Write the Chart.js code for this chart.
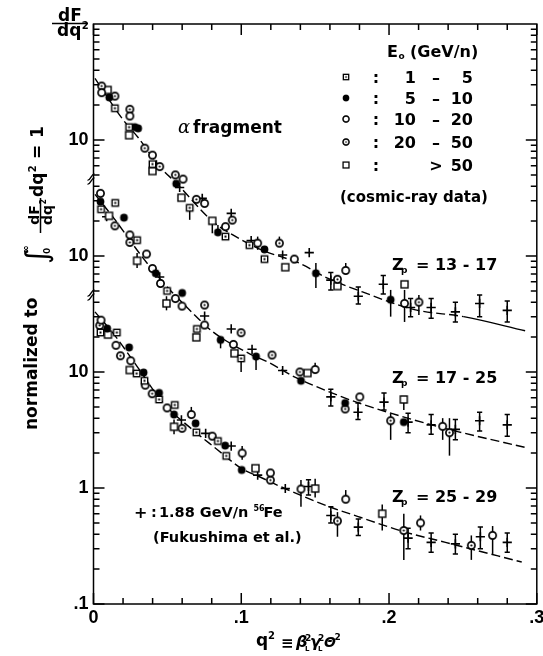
<!DOCTYPE html>
<html>
<head>
<meta charset="utf-8">
<script src="https://cdn.jsdelivr.net/npm/chart.js@4.4.1/dist/chart.umd.min.js"></script>
<style>
  html, body { margin: 0; padding: 0; background: #fff; }
  #box { width: 543px; height: 656px; }
</style>
</head>
<body>
<div id="box"><canvas id="fragChart" width="543" height="656"></canvas></div>
<script>
/* =====================
   DADOS
   [q2, valor] ou [q2, valor, erroBaixo, erroAlto]
   cada painel nas suas proprias unidades
   ===================== */

// Z_p = 13 - 17
const zA_1to5   = [[0.0145,18.8],[0.0241,12.9],[0.0399,6.2],[0.0651,2.6,2.05,2.6],[0.0893,1.47],[0.1055,1.24],[0.1157,0.94]];
const zA_5to10  = [[0.0107,23.3],[0.028,12.9],[0.0302,12.6],[0.056,4.2],[0.0842,1.6,1.6,1.85],[0.1157,1.14],[0.1505,0.71,0.53,0.87],[0.2011,0.42,0.30,0.51]];
const zA_10to20 = [[0.0055,25.6],[0.0246,16.1],[0.0399,7.4],[0.0606,4.6],[0.0752,2.84],[0.0893,1.79],[0.1111,1.29,1.13,1.47],[0.1359,0.94,0.87,1.02],[0.1707,0.75,0.75,0.87],[0.2105,0.39,0.27,0.51]];
const zA_20to50 = [[0.0055,29.2],[0.0145,23.9],[0.0246,18.4],[0.0347,8.5],[0.0448,5.9],[0.0554,5.0],[0.0696,3.08],[0.0939,2.04],[0.1258,1.29,1.29,1.47],[0.1651,0.63],[0.2202,0.40,0.31,0.46]];
const zA_over50 = [[0.0096,27],[0.0241,11],[0.0399,5.4],[0.0595,3.18],[0.0804,2.01,1.57,2.01],[0.1298,0.80],[0.1651,0.55],[0.2105,0.57]];
const zA_fe     = [[0.0426,6.1],[0.0583,3.9],[0.0736,3.14],[0.0932,2.33],[0.1067,1.36],[0.128,1.02],[0.146,1.07],[0.1606,0.62,0.51,0.72],[0.1792,0.45,0.385,0.54],[0.1961,0.57,0.47,0.68],[0.2146,0.36,0.30,0.43],[0.2285,0.36,0.29,0.43],[0.2449,0.33,0.27,0.40],[0.2613,0.39,0.30,0.46],[0.28,0.34,0.27,0.41]];
const zA_fit    = [[0.001,34],[0.0201,14.9],[0.0302,10.5],[0.0448,5.9],[0.0561,4.24],[0.0808,1.98],[0.0943,1.52],[0.1144,1.12],[0.1395,0.865],[0.1588,0.64],[0.182,0.49],[0.2171,0.345],[0.2505,0.30],[0.2921,0.227]];

// Z_p = 17 - 25
const zB_1to5   = [[0.0051,25.3],[0.0147,28.7],[0.0295,13.7],[0.0498,5.0],[0.07,2.35],[0.0999,1.31,1.0,1.31]];
const zB_5to10  = [[0.0047,29.4],[0.0206,21.4],[0.0421,7.1],[0.06,4.8],[0.086,1.89,1.6,1.89],[0.11,1.36,1.04,1.36],[0.1404,0.84],[0.1703,0.54],[0.21,0.37]];
const zB_10to20 = [[0.0047,34.7],[0.0246,15.2],[0.0359,10.4],[0.0399,7.8],[0.0453,5.8],[0.0554,4.3],[0.0599,3.7],[0.0752,2.54],[0.0947,1.73],[0.15,1.05,1.05,1.2],[0.1802,0.61],[0.2363,0.34,0.26,0.40]];
const zB_20to50 = [[0.0145,18.2],[0.0246,13.1],[0.0752,3.78],[0.0999,2.18],[0.1208,1.4],[0.1397,1.0],[0.1703,0.48],[0.2011,0.38,0.26,0.44],[0.2409,0.30,0.19,0.40]];
const zB_over50 = [[0.0105,22.2],[0.0295,9.1,7.9,10.6],[0.0494,3.9,3.4,4.5],[0.0696,1.99],[0.0954,1.45],[0.1448,0.98],[0.21,0.58,0.47,0.58]];
const zB_fe     = [[0.0089,21.8],[0.0448,6.6],[0.0752,3.04],[0.0932,2.35],[0.1073,1.57],[0.128,1.03],[0.1606,0.61,0.51,0.71],[0.179,0.45,0.39,0.54],[0.1966,0.55,0.47,0.66],[0.2129,0.37,0.30,0.44],[0.2285,0.35,0.29,0.43],[0.2449,0.32,0.26,0.39],[0.2613,0.38,0.31,0.45],[0.28,0.35,0.28,0.43]];
const zB_fit    = [[0.001,34],[0.014,21],[0.0325,10],[0.0467,6.0],[0.0662,3.31],[0.0808,2.22],[0.1051,1.45],[0.119,1.2],[0.1359,0.91],[0.1588,0.68],[0.1797,0.54],[0.2156,0.39],[0.2471,0.305],[0.2921,0.224]];

// Z_p = 25 - 29
const zC_1to5   = [[0.0047,21.9],[0.0158,21.9],[0.0292,9.7],[0.0345,8.4],[0.0444,5.8],[0.055,5.2],[0.0696,3.02],[0.0842,2.54],[0.0898,1.89]];
const zC_5to10  = [[0.0093,23.7],[0.0241,16.3],[0.0339,9.9],[0.0444,6.6],[0.0545,4.3],[0.0691,3.61],[0.0891,2.32],[0.1003,1.43]];
const zC_10to20 = [[0.0051,28],[0.0152,17],[0.0252,12.5],[0.035,7.7],[0.0498,4.9],[0.0662,4.3,4.3,5.0],[0.0804,2.8],[0.1006,2.0,1.75,2.3],[0.1197,1.35],[0.1404,0.98,0.69,1.17],[0.1707,0.80,0.80,0.96],[0.2213,0.50,0.43,0.58],[0.2701,0.39,0.27,0.47]];
const zC_20to50 = [[0.0042,25.2],[0.0182,13.8],[0.0397,6.5],[0.0599,3.27],[0.1197,1.17],[0.1651,0.52,0.38,0.62],[0.21,0.43,0.24,0.60],[0.2557,0.32,0.24,0.39]];
const zC_over50 = [[0.0098,21],[0.0245,10.4],[0.0545,3.37,2.9,3.9],[0.1096,1.48],[0.15,0.99,0.83,1.2],[0.1954,0.60,0.43,0.72]];
const zC_fe     = [[0.0595,3.86],[0.0759,2.96],[0.0932,2.3],[0.1111,1.29],[0.1298,0.99],[0.1455,1.03,0.87,1.18],[0.1606,0.58,0.50,0.69],[0.1792,0.46,0.39,0.54],[0.2129,0.37,0.30,0.45],[0.2285,0.34,0.28,0.41],[0.2449,0.33,0.27,0.40],[0.2618,0.38,0.30,0.46],[0.28,0.34,0.28,0.41]];
const zC_fit    = [[0.001,33],[0.014,21],[0.0303,10.8],[0.0467,5.5],[0.0673,3.16],[0.0817,2.25],[0.101,1.45],[0.1123,1.25],[0.128,1.01],[0.1595,0.69],[0.1786,0.57],[0.21,0.42],[0.2382,0.34],[0.2898,0.23]];

// eixos
const xTickVals = [0, 0.1, 0.2, 0.3];
const xTickText = ['0', '.1', '.2', '.3'];
const yTickVals = [0.1, 1, 10, 100, 1000];
const yTickText = ['.1', '1', '10', '10', '10'];
const axisBreaks = [460, 46];          // onde o eixo muda de painel
const panelShift = [100, 10, 1];       // deslocamento de cada painel (x10)
const solidFrom  = [0.25, 0.25, 0.27]; // a curva fica continua a partir daqui

// legenda
const legendTitle = 'E';
const legendRows = [
  ['sqdot',  '1',  '–', '5'],
  ['filled', '5',  '–', '10'],
  ['open',   '10', '–', '20'],
  ['dot',    '20', '–', '50'],
  ['square', '',   '>', '50']
];

/* === MARCADORES === */
function makeMarker(kind){
  const c = document.createElement('canvas');
  c.width = 13; c.height = 13;
  const g = c.getContext('2d');
  g.translate(6.5, 6.5);
  g.strokeStyle = '#000';
  g.fillStyle = '#fff';
  g.lineWidth = 1.4;
  if(kind === 'sqdot' || kind === 'square'){
    const h = kind === 'sqdot' ? 3.2 : 3.5;
    g.fillRect(-h, -h, 2*h, 2*h);
    g.strokeRect(-h, -h, 2*h, 2*h);
    if(kind === 'sqdot'){ g.fillStyle = '#000'; g.fillRect(-1, -1, 2, 2); }
  } else {
    g.beginPath();
    g.arc(0, 0, kind === 'filled' ? 3.9 : 3.6, 0, Math.PI*2);
    if(kind === 'filled'){ g.fillStyle = '#000'; g.fill(); }
    else {
      g.lineWidth = 1.7;
      g.fill(); g.stroke();
      if(kind === 'dot'){ g.beginPath(); g.arc(0, 0, 1.1, 0, Math.PI*2); g.fillStyle = '#000'; g.fill(); }
    }
  }
  return c;
}
const markers = {
  sqdot: makeMarker('sqdot'), filled: makeMarker('filled'), open: makeMarker('open'),
  dot: makeMarker('dot'), square: makeMarker('square')
};

/* === DATASETS === */
const panels = [
  { sets: [[zA_1to5,'sqdot'],[zA_5to10,'filled'],[zA_10to20,'open'],[zA_20to50,'dot'],[zA_over50,'square'],[zA_fe,'plus']], fit: zA_fit },
  { sets: [[zB_1to5,'sqdot'],[zB_5to10,'filled'],[zB_10to20,'open'],[zB_20to50,'dot'],[zB_over50,'square'],[zB_fe,'plus']], fit: zB_fit },
  { sets: [[zC_1to5,'sqdot'],[zC_5to10,'filled'],[zC_10to20,'open'],[zC_20to50,'dot'],[zC_over50,'square'],[zC_fe,'plus']], fit: zC_fit }
];

const pointSets = [];
const fitSets = [];
panels.forEach((p, k) => {
  const s = panelShift[k];
  p.sets.forEach(([arr, kind]) => {
    pointSets.push({
      data: arr.map(d => ({ x: d[0], y: d[1]*s, lo: d[2] != null ? d[2]*s : null, hi: d[3] != null ? d[3]*s : null })),
      pointStyle: kind === 'plus' ? 'cross' : markers[kind],
      pointRadius: 4.6,
      borderColor: '#000',
      backgroundColor: '#000',
      borderWidth: 1.6,
      showLine: false,
      errBars: true,
      caps: kind === 'plus'
    });
  });
  const sf = solidFrom[k];
  fitSets.push({
    data: p.fit.map(d => ({ x: d[0], y: d[1]*s })),
    showLine: true,
    pointRadius: 0,
    borderColor: '#000',
    borderWidth: 1.4,
    borderDash: [],
    cubicInterpolationMode: 'monotone',
    segment: { borderDash: c => c.p0.parsed.x >= sf ? undefined : [9, 4] }
  });
});

/* === ERROR BARS === */
const errorBars = {
  id: 'errorBars',
  beforeDatasetsDraw(chart){
    const ctx = chart.ctx, y = chart.scales.y;
    ctx.save();
    ctx.strokeStyle = '#000';
    ctx.lineWidth = 1.5;
    chart.data.datasets.forEach((ds, i) => {
      if(!ds.errBars) return;
      chart.getDatasetMeta(i).data.forEach((pt, j) => {
        const r = ds.data[j];
        if(r.lo == null) return;
        const y1 = y.getPixelForValue(r.lo), y2 = y.getPixelForValue(r.hi);
        ctx.beginPath();
        ctx.moveTo(pt.x, y1); ctx.lineTo(pt.x, y2);
        if(ds.caps){
          ctx.moveTo(pt.x-2.6, y1); ctx.lineTo(pt.x+2.6, y1);
          ctx.moveTo(pt.x-2.6, y2); ctx.lineTo(pt.x+2.6, y2);
        }
        ctx.stroke();
      });
    });
    ctx.restore();
  }
};

/* === MOLDURA, TICKS E TEXTOS === */
const SANS = '"DejaVu Sans"';
function put(ctx, s, x, y, font, align){
  ctx.font = font;
  ctx.textAlign = align || 'left';
  ctx.fillText(s, x, y);
  return x + ctx.measureText(s).width;
}

const frameAndText = {
  id: 'frameAndText',
  afterDraw(chart){
    const { ctx, chartArea: a, scales: { x, y } } = chart;
    ctx.save();
    ctx.strokeStyle = '#000';
    ctx.fillStyle = '#000';
    ctx.lineWidth = 1.5;
    ctx.strokeRect(a.left, a.top, a.right - a.left, a.bottom - a.top);

    // ticks para dentro, nos 4 lados
    ctx.beginPath();
    for(let i = 0; i <= 15; i++){
      const px = x.getPixelForValue(i*0.02);
      const len = i % 5 === 0 ? 11 : 6;
      ctx.moveTo(px, a.bottom); ctx.lineTo(px, a.bottom - len);
      ctx.moveTo(px, a.top);    ctx.lineTo(px, a.top + len);
    }
    for(let e = -1; e <= 3; e++){
      for(let m = 1; m <= 9; m++){
        const py = y.getPixelForValue(m * Math.pow(10, e));
        const len = m === 1 ? 11 : 6;
        ctx.moveTo(a.left, py);  ctx.lineTo(a.left + len, py);
        ctx.moveTo(a.right, py); ctx.lineTo(a.right - len, py);
      }
    }
    ctx.stroke();

    // quebras do eixo
    ctx.lineWidth = 1.3;
    axisBreaks.forEach(v => {
      const py = y.getPixelForValue(v);
      [-2, 2].forEach(o => {
        ctx.beginPath();
        ctx.moveTo(a.left - 6, py + o + 3);
        ctx.bezierCurveTo(a.left - 3, py + o + 4, a.left - 2, py + o - 4, a.left + 1, py + o - 3);
        ctx.stroke();
      });
    });

    ctx.textBaseline = 'alphabetic';

    // dF/dq2 no canto
    put(ctx, 'dF', 70, 21, 'bold 17px ' + SANS, 'center');
    ctx.lineWidth = 1.5;
    ctx.beginPath(); ctx.moveTo(52, 23.5); ctx.lineTo(88, 23.5); ctx.stroke();
    let cx = put(ctx, 'dq', 57, 36, 'bold 17px ' + SANS);
    put(ctx, '2', cx + 0.5, 29, 'bold 10px ' + SANS);

    // titulo do eixo y (rodado)
    ctx.save();
    ctx.rotate(-Math.PI/2);
    put(ctx, 'normalized to', -430, 37, 'bold 17px ' + SANS);
    put(ctx, '∫', -264, 47, '30px ' + SANS);
    put(ctx, '∞', -254, 29, 'bold 10px ' + SANS);
    put(ctx, '0', -254, 50, 'bold 9px ' + SANS);
    put(ctx, 'dF', -215, 38.5, 'bold 14px ' + SANS, 'center');
    ctx.beginPath(); ctx.moveTo(-233, 40.5); ctx.lineTo(-198, 40.5); ctx.stroke();
    cx = put(ctx, 'dq', -225, 52, 'bold 14px ' + SANS);
    put(ctx, '2', cx + 0.5, 46, 'bold 8px ' + SANS);
    cx = put(ctx, 'dq', -197, 43, 'bold 17px ' + SANS);
    put(ctx, '2', cx + 0.5, 36, 'bold 10px ' + SANS);
    put(ctx, '=', -159, 43, 'bold 17px ' + SANS);
    put(ctx, '1', -138, 43, 'bold 17px ' + SANS);
    ctx.restore();

    // titulo do eixo x
    put(ctx, 'q', 256, 646, 'bold 17px ' + SANS);
    put(ctx, '2', 268, 639, 'bold 10px ' + SANS);
    put(ctx, '≡', 281, 648, 'bold 15px ' + SANS);
    put(ctx, 'β', 296, 647, 'italic bold 16px ' + SANS);
    put(ctx, 'L', 305, 651, 'bold 7px ' + SANS);
    put(ctx, '2', 305, 641, 'bold 9px ' + SANS);
    put(ctx, 'γ', 310, 647, 'italic bold 16px ' + SANS);
    put(ctx, 'L', 318, 651, 'bold 7px ' + SANS);
    put(ctx, '2', 318, 641, 'bold 9px ' + SANS);
    put(ctx, 'Θ', 324, 647, 'italic bold 14px ' + SANS);
    put(ctx, '2', 334.5, 640, 'bold 9px ' + SANS);

    // rotulos dos paineis
    put(ctx, 'α', 178, 133, 'italic 18px "DejaVu Serif"');
    put(ctx, 'fragment', 193, 133, 'bold 17px ' + SANS);
    [['13 - 17', 270], ['17 - 25', 383], ['25 - 29', 502]].forEach(([t, by]) => {
      put(ctx, 'Z', 392, by, 'bold 16px ' + SANS);
      put(ctx, 'p', 401, by + 3, 'bold 9px ' + SANS);
      put(ctx, '= ' + t, 416, by, 'bold 16px ' + SANS);
    });

    // legenda das energias
    cx = put(ctx, legendTitle, 387, 57, 'bold 16px ' + SANS);
    put(ctx, 'o', cx + 0.5, 59, 'bold 9px ' + SANS);
    put(ctx, '(GeV/n)', 410, 57, 'bold 16px ' + SANS);
    const rowY = [77, 98, 119, 142, 165];
    legendRows.forEach((r, i) => {
      const yy = rowY[i];
      const img = markers[r[0]];
      ctx.drawImage(img, 346 - 5.5, yy - 5.5, 11, 11);
      put(ctx, ':', 376, yy + 5.5, 'bold 16px ' + SANS, 'center');
      put(ctx, r[1], 416, yy + 5.5, 'bold 16px ' + SANS, 'right');
      put(ctx, r[2], 436, yy + 5.5, 'bold 16px ' + SANS, 'center');
      put(ctx, r[3], 473, yy + 5.5, 'bold 16px ' + SANS, 'right');
    });
    put(ctx, '(cosmic-ray data)', 340, 202, 'bold 15px ' + SANS);

    // dados de acelerador
    put(ctx, '+', 134, 518, 'bold 16px ' + SANS);
    put(ctx, ':', 151, 517, 'bold 14.5px ' + SANS);
    cx = put(ctx, '1.88 GeV/n', 159, 517, 'bold 14.5px ' + SANS);
    put(ctx, '56', cx + 5, 511, 'bold 8px ' + SANS);
    put(ctx, 'Fe', cx + 15, 517, 'bold 14.5px ' + SANS);
    put(ctx, '(Fukushima et al.)', 153, 542, 'bold 14.5px ' + SANS);

    ctx.restore();
  }
};

/* === GRAFICO === */
const ctx = document.getElementById('fragChart').getContext('2d');
const chart = new Chart(ctx, {
  type: 'scatter',
  data: { datasets: pointSets.concat(fitSets) },
  options: {
    responsive: false,
    animation: false,
    devicePixelRatio: 1,
    layout: { padding: { left: 0, right: 4, top: 24, bottom: 0 } },
    plugins: { legend: { display: false }, tooltip: { enabled: false } },
    scales: {
      x: {
        type: 'linear',
        min: 0, max: 0.3,
        grid: { display: false, drawTicks: false },
        border: { display: false },
        afterBuildTicks: s => { s.ticks = xTickVals.map(v => ({ value: v })); },
        afterFit: s => { s.height = 52; s.paddingLeft = 0; s.paddingRight = 0; },
        ticks: {
          autoSkip: false, maxRotation: 0, padding: 3,
          color: '#000',
          font: { family: 'Liberation Sans', weight: 'bold', size: 18 },
          callback: (v, i) => xTickText[i]
        }
      },
      y: {
        type: 'logarithmic',
        min: 0.1, max: 10000,
        grid: { display: false, drawTicks: false },
        border: { display: false },
        afterBuildTicks: s => { s.ticks = yTickVals.map(v => ({ value: v })); },
        afterFit: s => { s.width = 93.5; },
        ticks: {
          autoSkip: false, padding: 5,
          color: '#000',
          font: { family: 'Liberation Sans', weight: 'bold', size: 18 },
          callback: (v, i) => yTickText[i]
        }
      }
    }
  },
  plugins: [errorBars, frameAndText]
});
</script>
</body>
</html>
